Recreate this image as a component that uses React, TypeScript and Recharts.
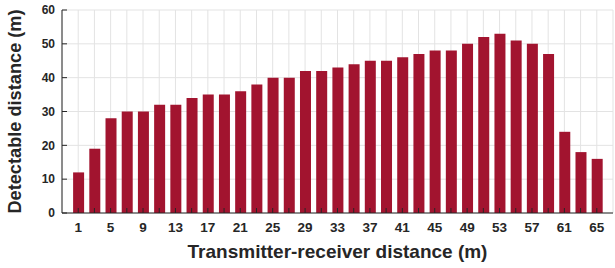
import React from 'react';
import { BarChart, Bar, XAxis, YAxis, CartesianGrid } from 'recharts';

const distances = [1, 3, 5, 7, 9, 11, 13, 15, 17, 19, 21, 23, 25, 27, 29, 31, 33, 35, 37, 39, 41, 43, 45, 47, 49, 51, 53, 55, 57, 59, 61, 63, 65];
const detectable = [12, 19, 28, 30, 30, 32, 32, 34, 35, 35, 36, 38, 40, 40, 42, 42, 43, 44, 45, 45, 46, 47, 48, 48, 50, 52, 53, 51, 50, 47, 24, 18, 16];
const xTickLabels = [1, 5, 9, 13, 17, 21, 25, 29, 33, 37, 41, 45, 49, 53, 57, 61, 65];
const yTicks = [0, 10, 20, 30, 40, 50, 60];

const data = distances.map((d, i) => ({ x: d, y: detectable[i] }));

const FONT = '"Liberation Sans", Arial, Helvetica, sans-serif';
const DARK = '#262626';
const xTickStyle = { fontFamily: FONT, fontWeight: 700, fontSize: 13.5, fill: DARK };
const yTickStyle = { fontFamily: FONT, fontWeight: 700, fontSize: 12, fill: DARK };

export default function App() {
  return (
    <div style={{ position: 'absolute', left: 0, top: 0 }}>
      <BarChart width={615} height={268} data={data} margin={{ top: 10, right: 2, bottom: 0, left: 0 }}>
        <CartesianGrid xAxisId="bottom" yAxisId="left" stroke="#e3e3e3" strokeWidth={1} />
        <XAxis
          xAxisId="bottom"
          dataKey="x"
          type="number"
          domain={[-1, 67]}
          allowDataOverflow
          ticks={distances}
          interval={0}
          tickFormatter={(v: number) => (xTickLabels.includes(v) ? String(v) : '')}
          height={55}
          tickSize={-5}
          tickMargin={14}
          stroke={DARK}
          tickLine={{ stroke: DARK }}
          axisLine={{ stroke: DARK }}
          tick={xTickStyle}
          label={{
            value: 'Transmitter-receiver distance (m)',
            position: 'insideBottom',
            offset: 10,
            style: { fontFamily: FONT, fontWeight: 700, fontSize: 19, fill: DARK },
          }}
        />
        <XAxis
          xAxisId="top"
          dataKey="x"
          type="number"
          orientation="top"
          domain={[-1, 67]}
          allowDataOverflow
          ticks={distances}
          interval={0}
          tickFormatter={() => ''}
          height={0}
          tickSize={-5}
          stroke={DARK}
          tickLine={{ stroke: DARK }}
          axisLine={{ stroke: DARK }}
        />
        <YAxis
          yAxisId="left"
          type="number"
          domain={[0, 60]}
          ticks={yTicks}
          interval={0}
          width={62}
          tickSize={-5}
          tickMargin={12}
          stroke={DARK}
          tickLine={{ stroke: DARK }}
          axisLine={{ stroke: DARK }}
          tick={yTickStyle}
          label={{
            value: 'Detectable distance (m)',
            angle: -90,
            position: 'insideLeft',
            offset: 15,
            style: { fontFamily: FONT, fontWeight: 700, fontSize: 18.2, fill: DARK, textAnchor: 'middle' },
          }}
        />
        <YAxis
          yAxisId="right"
          orientation="right"
          type="number"
          domain={[0, 60]}
          ticks={yTicks}
          interval={0}
          width={0}
          tickSize={-5}
          tickFormatter={() => ''}
          stroke={DARK}
          tickLine={{ stroke: DARK }}
          axisLine={{ stroke: DARK }}
        />
        <Bar
          xAxisId="bottom"
          yAxisId="left"
          dataKey="y"
          fill="#A2142F"
          barSize={11}
          isAnimationActive={false}
        />
      </BarChart>
    </div>
  );
}
